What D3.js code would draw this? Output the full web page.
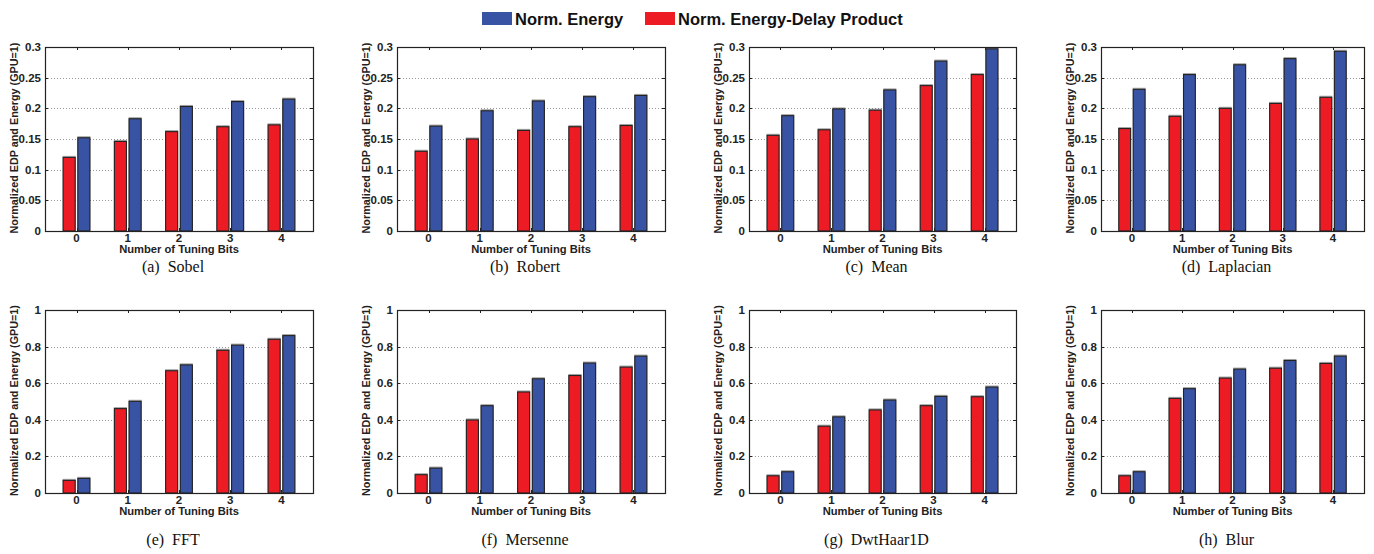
<!DOCTYPE html>
<html>
<head>
<meta charset="utf-8">
<script src="https://cdn.jsdelivr.net/npm/d3@7"></script>
<style>
  body { margin: 0; background: #fff; }
  svg { display: block; }
  .tick-label, .axis-title { font-family: "Liberation Sans", Arial, sans-serif; font-weight: bold; fill: #222; }
  .caption { font-family: "Liberation Serif", "Times New Roman", serif; fill: #111; }
  .legend-text { font-family: "Liberation Sans", Arial, sans-serif; font-weight: bold; fill: #111; }
</style>
</head>
<body>
<svg id="fig" width="1374" height="554"></svg>
<script>
// tuning bits on the x axis
const bits = [0, 1, 2, 3, 4];

const benchmarks = ["Sobel", "Robert", "Mean", "Laplacian", "FFT", "Mersenne", "DwtHaar1D", "Blur"];
const letters = ["a", "b", "c", "d", "e", "f", "g", "h"];

// normalized energy (blue) per benchmark
const energySobel = [0.152, 0.183, 0.203, 0.211, 0.215];
const energyRobert = [0.171, 0.196, 0.212, 0.219, 0.221];
const energyMean = [0.188, 0.199, 0.230, 0.277, 0.297];
const energyLaplacian = [0.231, 0.255, 0.271, 0.281, 0.293];
const energyFFT = [0.080, 0.501, 0.700, 0.808, 0.860];
const energyMersenne = [0.136, 0.477, 0.624, 0.710, 0.748];
const energyDwtHaar1D = [0.116, 0.416, 0.508, 0.528, 0.579];
const energyBlur = [0.116, 0.570, 0.677, 0.724, 0.748];

// normalized energy-delay product (red) per benchmark
const edpSobel = [0.120, 0.146, 0.162, 0.170, 0.173];
const edpRobert = [0.130, 0.150, 0.164, 0.170, 0.172];
const edpMean = [0.156, 0.165, 0.197, 0.237, 0.255];
const edpLaplacian = [0.167, 0.187, 0.200, 0.208, 0.218];
const edpFFT = [0.069, 0.461, 0.668, 0.780, 0.840];
const edpMersenne = [0.100, 0.399, 0.552, 0.642, 0.688];
const edpDwtHaar1D = [0.094, 0.365, 0.454, 0.477, 0.526];
const edpBlur = [0.094, 0.517, 0.628, 0.682, 0.708];

const energySeries = [energySobel, energyRobert, energyMean, energyLaplacian,
  energyFFT, energyMersenne, energyDwtHaar1D, energyBlur];
const edpSeries = [edpSobel, edpRobert, edpMean, edpLaplacian,
  edpFFT, edpMersenne, edpDwtHaar1D, edpBlur];

// y tick values for each row
const yTicksTop = [0, 0.05, 0.1, 0.15, 0.2, 0.25, 0.3];
const yTicksBottom = [0, 0.2, 0.4, 0.6, 0.8, 1];

const seriesNames = ["Norm. Energy", "Norm. Energy-Delay Product"];

const colors = { energy: "#3953a4", edp: "#ed1c24" };

const svg = d3.select("#fig");

// panel layout (pixels)
const panelLeft = [45, 397, 749, 1101];
const panelWidth = [268, 268, 267, 263];
const rowTop = [47, 310];
const rowHeight = [184, 183];

function drawPanel(i) {
  const col = i % 4;
  const row = Math.floor(i / 4);
  const x0 = panelLeft[col];
  const w = panelWidth[col];
  const y0 = rowTop[row];
  const h = rowHeight[row];
  const yTicks = row === 0 ? yTicksTop : yTicksBottom;
  const yMax = yTicks[yTicks.length - 1];

  const g = svg.append("g").attr("transform", `translate(${x0},${y0})`);

  const x = d3.scaleLinear().domain([-0.615, 4.615]).range([0, w]);
  const y = d3.scaleLinear().domain([0, yMax]).range([h, 0]);
  const step = x(1) - x(0);
  const barW = step * 0.235;
  const gap = step * 0.026;

  // dotted grid
  g.append("g")
    .selectAll("line")
    .data(yTicks.slice(1, -1))
    .join("line")
    .attr("x1", 0)
    .attr("x2", w)
    .attr("y1", (d) => Math.round(y(d)) + 0.5)
    .attr("y2", (d) => Math.round(y(d)) + 0.5)
    .attr("stroke", "#9a9a9a")
    .attr("stroke-width", 1)
    .attr("stroke-dasharray", "1,2");

  // bars, each with a faint gray halo like the scanned original
  const bars = g.append("g");
  const drawBars = (cls, data, color, offset) => {
    bars
      .selectAll("." + cls)
      .data(data)
      .join("rect")
      .attr("class", cls)
      .attr("x", (d, k) => x(bits[k]) + offset)
      .attr("y", (d) => y(d))
      .attr("width", barW)
      .attr("height", (d) => h - y(d))
      .attr("fill", color)
      .attr("stroke", "#222")
      .attr("stroke-width", 1.1)
      .style("filter", "drop-shadow(0.6px -0.4px 0.4px rgba(0,0,0,0.35))");
  };
  drawBars("bar-edp", edpSeries[i], colors.edp, -gap - barW);
  drawBars("bar-energy", energySeries[i], colors.energy, gap);

  // inner ticks on all four sides
  const ticks = g.append("g").attr("stroke", "#222").attr("stroke-width", 1);
  yTicks.forEach((t) => {
    const yy = Math.round(y(t)) + 0.5;
    ticks.append("line").attr("x1", 0).attr("x2", 3).attr("y1", yy).attr("y2", yy);
    ticks.append("line").attr("x1", w - 3).attr("x2", w).attr("y1", yy).attr("y2", yy);
  });
  bits.forEach((b) => {
    const xx = Math.round(x(b)) + 0.5;
    ticks.append("line").attr("x1", xx).attr("x2", xx).attr("y1", 0).attr("y2", 3);
    ticks.append("line").attr("x1", xx).attr("x2", xx).attr("y1", h - 3).attr("y2", h);
  });

  // frame
  g.append("rect")
    .attr("x", 0.5)
    .attr("y", 0.5)
    .attr("width", w)
    .attr("height", h)
    .attr("fill", "none")
    .attr("stroke", "#222")
    .attr("stroke-width", 1.2);

  // tick labels
  g.append("g")
    .selectAll("text")
    .data(yTicks)
    .join("text")
    .attr("class", "tick-label")
    .attr("x", -4)
    .attr("y", (d) => y(d))
    .attr("dy", "0.35em")
    .attr("text-anchor", "end")
    .attr("font-size", 11.5)
    .text((d) => d3.format("~g")(d));

  g.append("g")
    .selectAll("text")
    .data(bits)
    .join("text")
    .attr("class", "tick-label")
    .attr("x", (d) => x(d))
    .attr("y", h + 10.5)
    .attr("text-anchor", "middle")
    .attr("font-size", 11.5)
    .text((d) => d);

  // axis titles
  g.append("text")
    .attr("class", "axis-title")
    .attr("x", w / 2)
    .attr("y", h + 21.5)
    .attr("text-anchor", "middle")
    .attr("font-size", 11.2)
    .text("Number of Tuning Bits");

  g.append("text")
    .attr("class", "axis-title")
    .attr("transform", `translate(-27,${h / 2 - 1}) rotate(-90)`)
    .attr("text-anchor", "middle")
    .attr("font-size", 10.8)
    .text("Normalized EDP and Energy (GPU=1)");

  // caption
  g.append("text")
    .attr("class", "caption")
    .attr("x", w / 2 - 6)
    .attr("y", row === 0 ? h + 41 : h + 52)
    .attr("text-anchor", "middle")
    .attr("font-size", 16)
    .attr("xml:space", "preserve")
    .text(`(${letters[i]})  ${benchmarks[i]}`);
}

benchmarks.forEach((b, i) => drawPanel(i));

// legend
const legend = svg.append("g").attr("transform", "translate(482,12)");
const legendItems = [
  { name: seriesNames[0], color: colors.energy, dx: 0 },
  { name: seriesNames[1], color: colors.edp, dx: 163 },
];
legendItems.forEach((d) => {
  legend.append("rect")
    .attr("x", d.dx)
    .attr("y", 0)
    .attr("width", 30)
    .attr("height", 13)
    .attr("fill", d.color);
  legend.append("text")
    .attr("class", "legend-text")
    .attr("x", d.dx + 33)
    .attr("y", 12.5)
    .attr("font-size", 16.5)
    .text(d.name);
});
</script>
</body>
</html>
